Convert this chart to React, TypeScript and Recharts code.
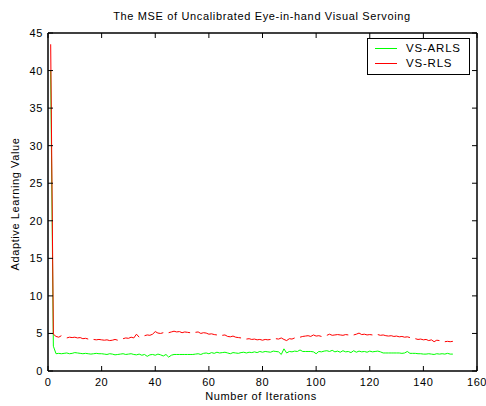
import React from 'react';
import { LineChart, Line, XAxis, YAxis, Legend } from 'recharts';

// iteration index 1..151
const iterations: number[] = Array.from({ length: 151 }, (_, i) => i + 1);

const vsArls: number[] = [
  40.0, 3.3, 2.3, 2.35, 2.3, 2.35, 2.4, 2.3, 2.35, 2.45,
  2.4, 2.35, 2.3, 2.35, 2.3, 2.25, 2.3, 2.35, 2.3, 2.3,
  2.25, 2.2, 2.3, 2.25, 2.15, 2.2, 2.25, 2.3, 2.2, 2.25,
  2.3, 2.2, 2.15, 2.25, 2.1, 2.2, 1.95, 2.15, 2.2, 2.1,
  2.25, 2.15, 2.0, 2.2, 1.85, 2.1, 2.2, 2.2, 2.2, 2.2,
  2.2, 2.2, 2.2, 2.2, 2.25, 2.3, 2.2, 2.35, 2.4, 2.3,
  2.45, 2.35, 2.5, 2.4, 2.45, 2.5, 2.4, 2.3, 2.45, 2.4,
  2.35, 2.45, 2.5, 2.4, 2.5, 2.45, 2.55, 2.45, 2.6, 2.5,
  2.6, 2.55, 2.5, 2.65, 2.6, 2.55, 2.2, 2.95, 2.4, 2.6,
  2.55, 2.65, 2.6, 2.8, 2.6, 2.6, 2.6, 2.6, 2.55, 2.3,
  2.6, 2.55, 2.65, 2.7, 2.6, 2.75, 2.55, 2.65, 2.5, 2.7,
  2.55, 2.6, 2.45, 2.7, 2.5, 2.65, 2.55, 2.6, 2.5, 2.65,
  2.55, 2.6, 2.65, 2.55, 2.4, 2.4, 2.4, 2.4, 2.4, 2.4,
  2.4, 2.35, 2.4, 2.6, 2.35, 2.35, 2.35, 2.3, 2.3, 2.25,
  2.25, 2.3, 2.25, 2.2, 2.3, 2.25, 2.3, 2.25, 2.35, 2.25,
  2.25,
];

// null = the small breaks visible in the red trace
const vsRls: (number | null)[] = [
  43.5, 4.9, 4.6, 4.5, 4.7, null, 4.4, 4.5, 4.45, 4.5,
  4.4, 4.45, 4.3, 4.35, 4.25, null, 4.2, 4.15, 4.2, 4.15,
  4.1, 4.15, 4.05, 4.1, 4.2, 4.1, null, 4.3, 4.4, 4.35,
  4.5, 4.4, 4.9, 4.5, null, 4.7, 4.8, 4.75, 4.9, 5.25,
  5.05, 5.0, 5.1, null, 5.1, 5.2, 5.3, 5.2, 5.25, 5.1,
  5.2, 5.15, 5.1, null, 5.15, 5.2, 5.0, 5.1, 5.05, 4.9,
  4.95, 4.85, 4.8, null, 4.75, 4.8, 4.6, 4.55, 4.65, 4.5,
  4.45, 4.4, null, 4.25, 4.3, 4.2, 4.25, 4.15, 4.2, 4.1,
  4.2, 4.15, 4.2, null, 4.3, 4.25, 4.4, 4.2, 4.05, 4.3,
  4.25, 4.4, null, 4.5, 4.6, 4.65, 4.7, 4.6, 4.8, 4.65,
  4.7, 4.6, null, 4.75, 4.9, 4.75, 4.8, 4.85, 4.8, 4.75,
  4.85, 4.8, null, 4.8, 4.9, 5.05, 4.85, 4.9, 4.8, 4.85,
  4.8, null, 4.85, 4.75, 4.8, 4.7, 4.65, 4.7, 4.6, 4.65,
  4.55, 4.6, 4.5, 4.55, 4.45, null, 4.3, 4.2, 4.25, 4.15,
  4.2, 4.05, 4.15, 3.9, 4.1, 4.05, null, 3.9, 3.95, 3.9,
  3.95,
];

const xTicks = [0, 20, 40, 60, 80, 100, 120, 140, 160];
const yTicks = [0, 5, 10, 15, 20, 25, 30, 35, 40, 45];

const FONT = '"Liberation Sans", Arial, Helvetica, sans-serif';
const SPACING = 0.6;

const data = iterations.map((x, i) => ({ x, arls: vsArls[i], rls: vsRls[i] }));

const BottomTick = (props: any) => {
  const { x, y, payload } = props;
  return (
    <g>
      <line x1={x} y1={y} x2={x} y2={y - 5} stroke="#000" />
      <text x={x} y={y + 15} textAnchor="middle" fontSize={11} letterSpacing={SPACING} fontFamily={FONT} fill="#000">
        {payload.value}
      </text>
    </g>
  );
};

const TopTick = (props: any) => {
  const { x, y } = props;
  return <line x1={x} y1={y} x2={x} y2={y + 5} stroke="#000" />;
};

const LeftTick = (props: any) => {
  const { x, y, payload } = props;
  return (
    <g>
      <line x1={x} y1={y} x2={x + 5} y2={y} stroke="#000" />
      <text x={x - 5} y={y + 4} textAnchor="end" fontSize={11} letterSpacing={SPACING} fontFamily={FONT} fill="#000">
        {payload.value}
      </text>
    </g>
  );
};

const RightTick = (props: any) => {
  const { x, y } = props;
  return <line x1={x} y1={y} x2={x - 5} y2={y} stroke="#000" />;
};

const LegendBox = () => (
  <div
    style={{
      width: 101,
      height: 35,
      border: '1px solid #000',
      background: '#fff',
      fontFamily: FONT,
      fontSize: 11.5,
      letterSpacing: 0.8,
      color: '#000',
      position: 'relative',
    }}
  >
    {[
      { name: 'VS-ARLS', color: '#00ff00', top: 10 },
      { name: 'VS-RLS', color: '#ff0000', top: 25 },
    ].map((r) => (
      <div key={r.name}>
        <div style={{ position: 'absolute', left: 7, top: r.top - 1, width: 22, height: 1, background: r.color }} />
        <div style={{ position: 'absolute', left: 38, top: r.top - 8, lineHeight: '14px' }}>{r.name}</div>
      </div>
    ))}
  </div>
);

export default function App() {
  return (
    <div style={{ position: 'relative', width: 486, height: 406, background: '#fff' }}>
      <style>{'body{margin:0}'}</style>
      <LineChart
        width={486}
        height={406}
        data={data}
        margin={{ top: 32, right: 8, bottom: 15, left: 0 }}
      >
        <XAxis
          dataKey="x"
          type="number"
          domain={[0, 160]}
          ticks={xTicks}
          interval={0}
          height={20}
          tickSize={0}
          tickMargin={0}
          tick={<BottomTick />}
          tickLine={false}
          axisLine={{ stroke: '#000', strokeWidth: 1.5 }}
          allowDataOverflow
        />
        <XAxis
          xAxisId="top"
          orientation="top"
          dataKey="x"
          type="number"
          domain={[0, 160]}
          ticks={xTicks}
          interval={0}
          height={1}
          tickSize={0}
          tickMargin={0}
          tick={<TopTick />}
          tickLine={false}
          axisLine={{ stroke: '#000', strokeWidth: 1.5 }}
          allowDataOverflow
        />
        <YAxis
          domain={[0, 45]}
          ticks={yTicks}
          interval={0}
          width={48}
          tickSize={0}
          tickMargin={0}
          tick={<LeftTick />}
          tickLine={false}
          axisLine={{ stroke: '#000', strokeWidth: 1.5 }}
          allowDataOverflow
        />
        <YAxis
          yAxisId="right"
          orientation="right"
          domain={[0, 45]}
          ticks={yTicks}
          interval={0}
          width={1}
          tickSize={0}
          tickMargin={0}
          tick={<RightTick />}
          tickLine={false}
          axisLine={{ stroke: '#000', strokeWidth: 1.5 }}
          allowDataOverflow
        />
        <Legend
          layout="horizontal"
          verticalAlign="middle"
          align="center"
          content={() => <LegendBox />}
          wrapperStyle={{ left: 367, top: 38, width: 103, height: 37 }}
        />
        <Line
          type="linear"
          dataKey="arls"
          name="VS-ARLS"
          xAxisId="top"
          yAxisId="right"
          stroke="#00ff00"
          strokeWidth={1}
          dot={false}
          isAnimationActive={false}
        />
        <Line
          type="linear"
          dataKey="rls"
          name="VS-RLS"
          stroke="#ff0000"
          strokeWidth={1}
          dot={false}
          isAnimationActive={false}
        />
      </LineChart>
      <svg
        width={486}
        height={406}
        style={{ position: 'absolute', left: 0, top: 0, pointerEvents: 'none' }}
        fontFamily={FONT}
        fill="#000"
      >
        <text x={262} y={19.5} textAnchor="middle" fontSize={11} letterSpacing={0.65}>
          The MSE of Uncalibrated Eye-in-hand Visual Servoing
        </text>
        <text x={261} y={400} textAnchor="middle" fontSize={11} letterSpacing={SPACING}>
          Number of Iterations
        </text>
        <text x={19} y={204} textAnchor="middle" fontSize={11} letterSpacing={SPACING} transform="rotate(-90 19 204)">
          Adaptive Learning Value
        </text>
      </svg>
    </div>
  );
}
